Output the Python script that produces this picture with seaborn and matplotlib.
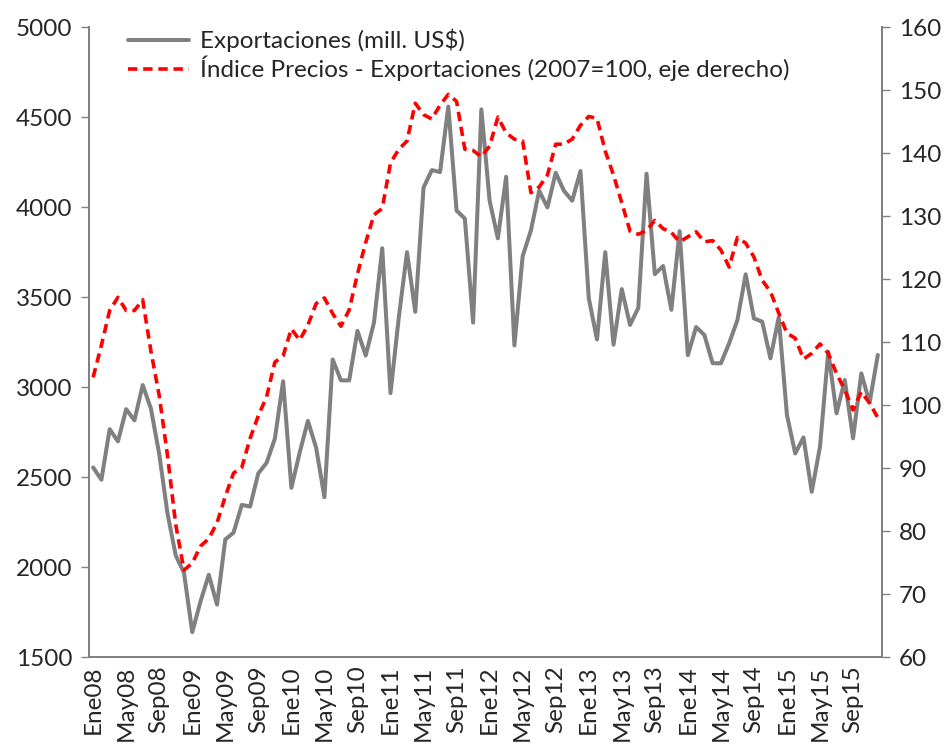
import pandas as pd
import numpy as np
import matplotlib
matplotlib.use('Agg')
import matplotlib.pyplot as plt
import seaborn as sns

## data, monthly Ene08 .. Dic15
meses = ['Ene', 'Feb', 'Mar', 'Abr', 'May', 'Jun', 'Jul', 'Ago', 'Sep', 'Oct', 'Nov', 'Dic']
anios = ['08', '09', '10', '11', '12', '13', '14', '15']
periodos = [m + a for a in anios for m in meses]

exportaciones = [
    2553, 2485, 2766, 2698, 2877, 2815, 3011, 2879, 2628, 2298, 2064, 1968,
    1638, 1809, 1957, 1791, 2153, 2191, 2345, 2336, 2521, 2579, 2713, 3032,
    2440, 2635, 2812, 2662, 2388, 3153, 3037, 3037, 3312, 3175, 3358, 3771,
    2966, 3385, 3749, 3418, 4108, 4205, 4194, 4558, 3980, 3936, 3358, 4542,
    4035, 3826, 4168, 3231, 3727, 3870, 4090, 3998, 4190, 4090, 4035, 4200,
    3495, 3264, 3749, 3235, 3544, 3345, 3440, 4185, 3627, 3672, 3429, 3866,
    3177, 3333, 3289, 3132, 3132, 3243, 3372, 3626, 3381, 3363, 3159, 3387,
    2844, 2631, 2720, 2418, 2669, 3196, 2854, 3039, 2715, 3076, 2913, 3178,
]
indice_precios = [
    104.4, 109.5, 115.0, 117.1, 115.0, 115.0, 116.7, 108.5, 101.5, 92.0, 81.0, 73.8,
    74.9, 77.6, 78.8, 81.3, 85.5, 89.2, 90.1, 94.7, 98.3, 101.3, 106.8, 107.8,
    112.1, 110.3, 112.7, 116.1, 117.0, 114.5, 112.5, 115.1, 120.8, 125.8, 130.2, 131.2,
    138.4, 140.6, 141.9, 147.9, 146.1, 145.4, 147.6, 149.3, 148.2, 140.6, 140.4, 139.4,
    141.1, 145.7, 143.2, 142.2, 141.9, 133.7, 134.6, 136.5, 141.4, 141.4, 142.2, 144.4,
    145.8, 145.5, 140.3, 136.5, 132.1, 127.6, 127.1, 127.7, 129.3, 128.0, 127.4, 125.9,
    126.7, 127.5, 125.9, 126.1, 124.6, 121.9, 126.6, 125.7, 123.5, 119.8, 118.0, 114.6,
    111.4, 110.6, 107.3, 108.2, 109.7, 108.2, 105.0, 102.4, 99.2, 102.1, 100.3, 98.0,
]

df = pd.DataFrame({'x': np.arange(len(periodos)), 'periodo': periodos,
                   'exp': exportaciones, 'ind': indice_precios})

## plot
sns.set_style('white')
plt.rcParams['font.family'] = ['Lato', 'DejaVu Sans']
fs = 17.5

fig = plt.figure(figsize=(9.51, 7.44), dpi=100)
ax = fig.add_axes([0.0936, 0.1169, 0.8338, 0.8468])
ax2 = ax.twinx()

gris = '#808080'
sns.lineplot(data=df, x='x', y='exp', ax=ax, color=gris, linewidth=2.9,
             label='Exportaciones (mill. US$)', legend=False)
sns.lineplot(data=df, x='x', y='ind', ax=ax2, color='#ff0000', linewidth=2.6,
             linestyle=(0, (2.6, 1.6)), label='Índice Precios - Exportaciones (2007=100, eje derecho)',
             legend=False)

n = len(periodos)
ax.set_xlim(-0.5, n - 0.5)
ax.set_ylim(1500, 5000)
ax2.set_ylim(60, 160)
ax.set_yticks(np.arange(1500, 5001, 500))
ax2.set_yticks(np.arange(60, 161, 10))

# category labels every 4 months, minor ticks at the category borders
ax.set_xticks(df['x'][::4])
ax.set_xticklabels(df['periodo'][::4], rotation=90)
ax.set_xticks(np.arange(-0.5, n, 1), minor=True)
ax.tick_params(axis='x', which='major', length=0, pad=6)
ax.tick_params(axis='x', which='minor', length=6, color=gris, width=1, direction='out')
ax.set_xlabel('')
ax.set_ylabel('')
ax2.set_ylabel('')

for a in (ax, ax2):
    a.tick_params(axis='y', length=6, color=gris, width=1, direction='out', labelsize=fs, pad=6)
    a.tick_params(axis='x', labelsize=fs)
    for s in a.spines.values():
        s.set_color(gris)
        s.set_linewidth(1.3)
    a.spines['top'].set_visible(False)
ax.tick_params(axis='y', left=True, right=False)
ax2.tick_params(axis='y', left=False, right=True)

h1, l1 = ax.get_legend_handles_labels()
h2, l2 = ax2.get_legend_handles_labels()
ax2.legend(h1 + h2, l1 + l2, loc='upper left', bbox_to_anchor=(0.037, 1.013), frameon=False,
           fontsize=fs, handlelength=2.5, handletextpad=0.45, labelspacing=0.15,
           borderaxespad=0)

fig.savefig('out.png', dpi=100)
